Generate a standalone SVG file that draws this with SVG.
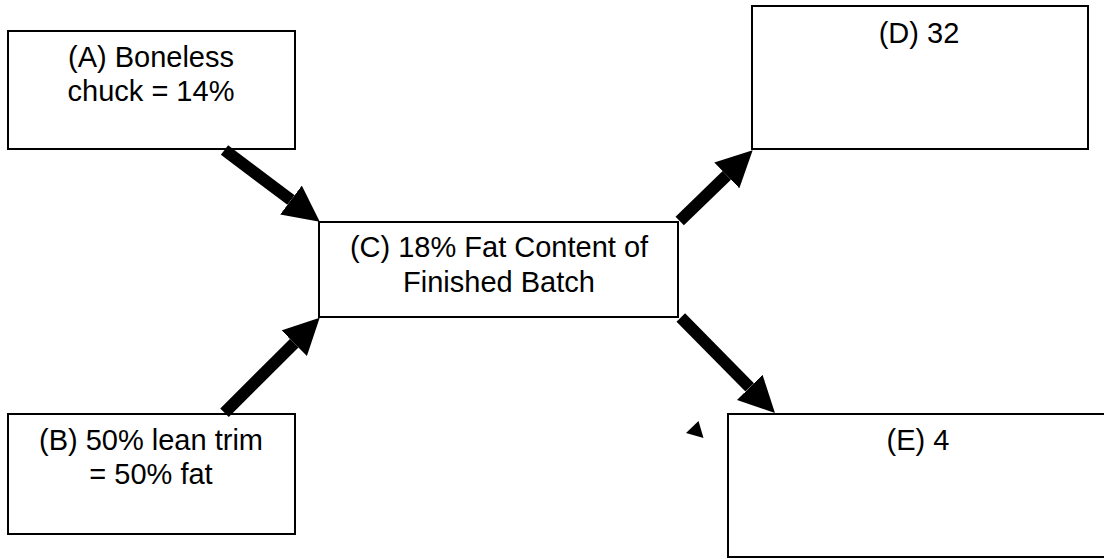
<svg xmlns="http://www.w3.org/2000/svg" width="1104" height="559" viewBox="0 0 1104 559">
<style>
.box{fill:#fff;stroke:#000;stroke-width:2}
.lbl{font-family:"Liberation Sans",Arial,sans-serif;font-size:29px;fill:#000;text-anchor:middle}
.shaft{stroke:#000;stroke-width:12;fill:none;marker-end:url(#head)}
</style>
<defs>
<marker id="head" markerUnits="userSpaceOnUse" viewBox="0 -18 36 36" markerWidth="36" markerHeight="36" refX="0" refY="0" orient="auto">
<path d="M0,-18 L36,0 L0,18 Z" fill="#000"/>
</marker>
</defs>
<rect width="1104" height="559" fill="#fff"/>
<g id="node-A">
<rect class="box" x="8" y="31" width="287" height="118"/>
<text class="lbl" x="151" y="67">(A) Boneless</text>
<text class="lbl" x="151" y="101">chuck = 14%</text>
</g>
<g id="node-B">
<rect class="box" x="8" y="414" width="287" height="120"/>
<text class="lbl" x="151" y="450">(B) 50% lean trim</text>
<text class="lbl" x="151" y="484">= 50% fat</text>
</g>
<g id="node-C">
<rect class="box" x="319" y="222" width="359" height="95"/>
<text class="lbl" x="499" y="257">(C) 18% Fat Content of</text>
<text class="lbl" x="499" y="292">Finished Batch</text>
</g>
<g id="node-D">
<rect class="box" x="752" y="6" width="336" height="143"/>
<text class="lbl" x="919" y="43">(D) 32</text>
</g>
<g id="node-E">
<rect class="box" x="728" y="414" width="390" height="143"/>
<text class="lbl" x="918" y="450">(E) 4</text>
</g>
<g id="connectors">
<line class="shaft" x1="224.5" y1="150" x2="291" y2="200"/>
<line class="shaft" x1="224.5" y1="412.7" x2="294.2" y2="343.2"/>
<line class="shaft" x1="679.7" y1="221" x2="726.8" y2="175.4"/>
<line class="shaft" x1="680.8" y1="317.5" x2="749.7" y2="387.4"/>
<polygon points="686,433 698.5,421 703.5,438" fill="#000"/>
</g>
</svg>
